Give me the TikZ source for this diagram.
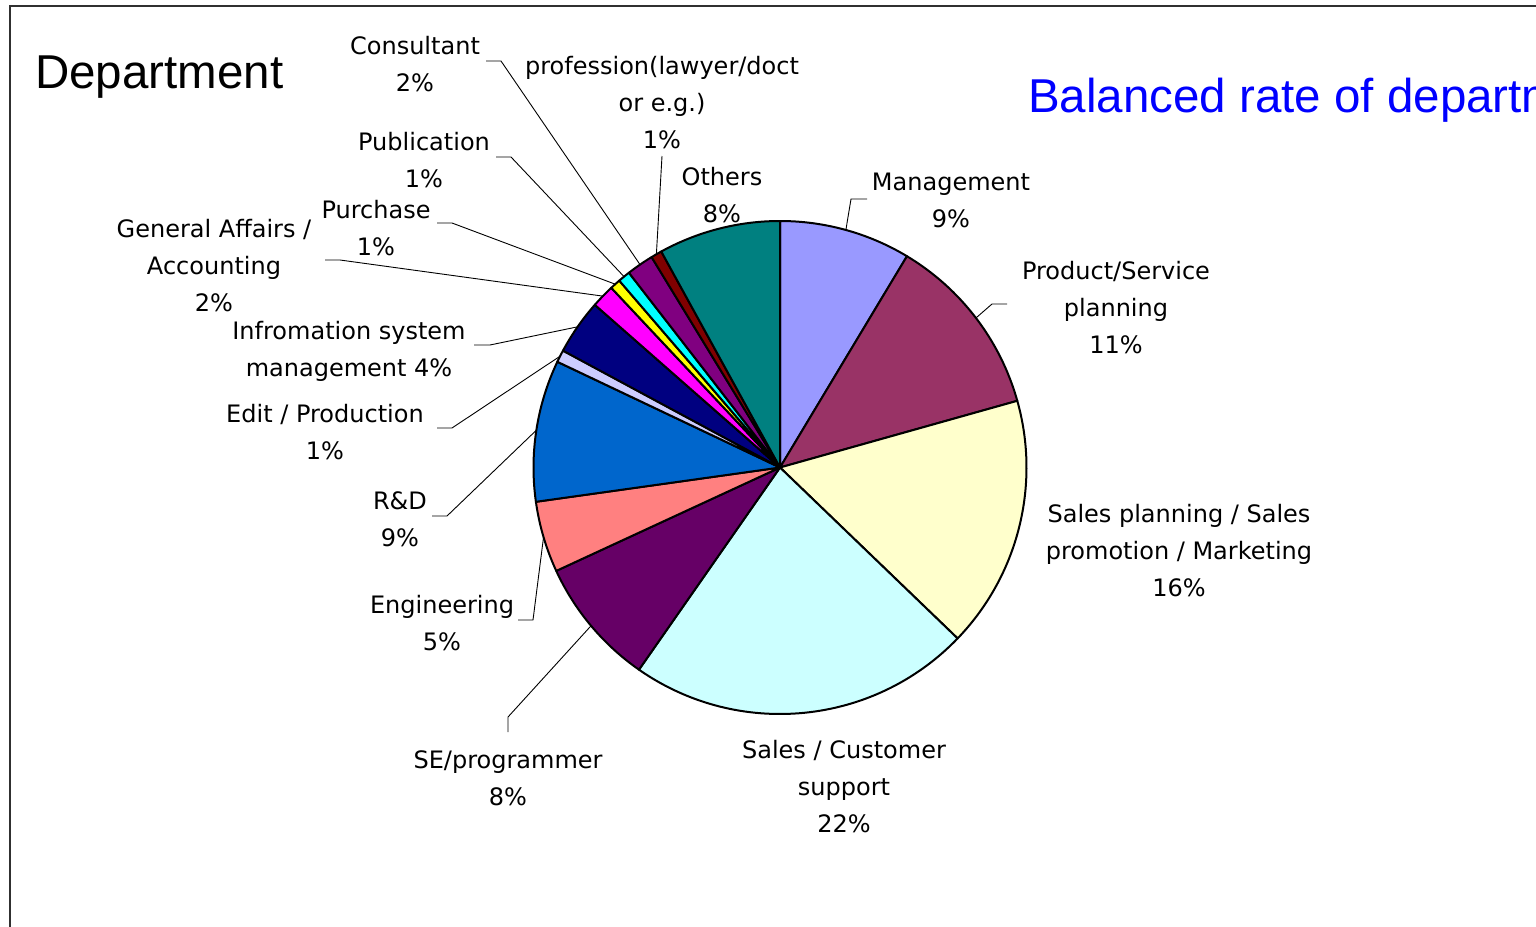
\documentclass[tikz,border=0pt]{standalone}
\usepackage{fontspec}
\usetikzlibrary{calc}
\newfontfamily\lblfont{DejaVu Sans}
\newfontfamily\ttlfont{Liberation Sans}
\definecolor{cMgmt}{HTML}{9999FF}
\definecolor{cProd}{HTML}{993366}
\definecolor{cSplan}{HTML}{FFFFCC}
\definecolor{cScust}{HTML}{CCFFFF}
\definecolor{cSE}{HTML}{660066}
\definecolor{cEng}{HTML}{FF8080}
\definecolor{cRD}{HTML}{0066CC}
\definecolor{cEdit}{HTML}{CCCCFF}
\definecolor{cInfo}{HTML}{000080}
\definecolor{cGA}{HTML}{FF00FF}
\definecolor{cPurch}{HTML}{FFFF00}
\definecolor{cPub}{HTML}{00FFFF}
\definecolor{cCons}{HTML}{800080}
\definecolor{cProf}{HTML}{800000}
\definecolor{cOth}{HTML}{008080}
\definecolor{frame}{HTML}{303030}
\begin{document}
\begin{tikzpicture}[x=1pt,y=-1pt,
  lab/.style={font=\lblfont\fontsize{24}{37}\selectfont, align=center, anchor=north, inner sep=0pt, text=black},
  ttl/.style={font=\ttlfont\fontsize{47.5}{57}\selectfont, anchor=base west, inner sep=0pt},
  slice/.style={draw=black, line width=2pt, line join=round},
  leader/.style={draw=black, line width=0.9pt},
  border/.style={draw=frame, line width=1.6pt}]
\useasboundingbox (0,0) rectangle (1536,926);
\fill[white] (0,0) rectangle (1536,926);
\begin{scope}
\clip (0,0) rectangle (1536,926);
% frame
\draw[border] (1560,6) -- (10,6) -- (10,950);
% titles
\node[ttl] (t1) at (35,88) {Department};
\node[ttl, text=blue] (t2) at (1028,112) {Balanced rate of department};
% pie
\def\R{246.5}
\coordinate (c) at (780,467.5);
\foreach \a/\b/\col in {0/31/cMgmt, 31/74.3/cProd, 74.3/133.9/cSplan, 133.9/214.9/cScust,
  214.9/245.2/cSE, 245.2/262/cEng, 262/295.4/cRD, 295.4/298.3/cEdit, 298.3/311.3/cInfo,
  311.3/316.8/cGA, 316.8/319.3/cPurch, 319.3/322.2/cPub, 322.2/328.6/cCons,
  328.6/331.2/cProf, 331.2/360/cOth}{
  \filldraw[slice, fill=\col] (c) -- ++(\a-90:\R) arc[start angle=\a-90, end angle=\b-90, radius=\R] -- cycle;
}
% edge points (slice mid angles)
\coordinate (eMgmt) at ($(c)+(15.5-90:\R)$);
\coordinate (eProd) at ($(c)+(52.65-90:\R)$);
\coordinate (eSE) at ($(c)+(230.05-90:\R)$);
\coordinate (eEng) at ($(c)+(253.6-90:\R)$);
\coordinate (eRD) at ($(c)+(278.7-90:\R)$);
\coordinate (eEdit) at ($(c)+(296.85-90:\R)$);
\coordinate (eInfo) at ($(c)+(304.8-90:\R)$);
\coordinate (eGA) at ($(c)+(314.05-90:\R)$);
\coordinate (ePurch) at ($(c)+(318.05-90:\R)$);
\coordinate (ePub) at ($(c)+(320.75-90:\R)$);
\coordinate (eCons) at ($(c)+(325.4-90:\R)$);
\coordinate (eProf) at ($(c)+(329.9-90:\R)$);
% labels
\node[lab] (lMgmt) at (951,181-17) {\strut Management\\9\%};
\node[lab] (lProd) at (1116,270-17) {\strut Product/Service\\planning\\11\%};
\node[lab] (lSplan) at (1179,513-17) {\strut Sales planning / Sales\\promotion / Marketing\\16\%};
\node[lab] (lScust) at (844,749-17) {\strut Sales / Customer\\support\\22\%};
\node[lab] (lSE) at (508,759-17) {\strut SE/programmer\\8\%};
\node[lab] (lEng) at (442,604-17) {\strut Engineering\\5\%};
\node[lab] (lRD) at (400,500-17) {\strut R\&D\\9\%};
\node[lab] (lEdit) at (325,413-17) {\strut Edit / Production\\1\%};
\node[lab] (lInfo) at (349,330-17) {\strut Infromation system\\management 4\%};
\node[lab] (lGA) at (214,228-17) {\strut General Affairs /\\Accounting\\2\%};
\node[lab] (lPurch) at (376,209-17) {\strut Purchase\\1\%};
\node[lab] (lPub) at (424,141-17) {\strut Publication\\1\%};
\node[lab] (lCons) at (415,45-17) {\strut Consultant\\2\%};
\node[lab] (lProf) at (662,65-17) {\strut profession(lawyer/doct\\or e.g.)\\1\%};
\node[lab] (lOth) at (722,176-17) {\strut Others\\8\%};
% leader bends and free ends
\coordinate (hMgmt) at (867,199); \coordinate (kMgmt) at (851,199);
\coordinate (hProd) at (1007,304); \coordinate (kProd) at (992,304);
\coordinate (hSE) at (508,732); \coordinate (kSE) at (508,717);
\coordinate (hEng) at (518,620); \coordinate (kEng) at (533,620);
\coordinate (hRD) at (432,516); \coordinate (kRD) at (447,516);
\coordinate (hEdit) at (437,428); \coordinate (kEdit) at (452,428);
\coordinate (hInfo) at (474,345); \coordinate (kInfo) at (490,345);
\coordinate (hGA) at (325,260); \coordinate (kGA) at (340,260);
\coordinate (hPurch) at (437,223); \coordinate (kPurch) at (452,223);
\coordinate (hPub) at (496,157); \coordinate (kPub) at (511,157);
\coordinate (hCons) at (486,61); \coordinate (kCons) at (501,61);
\coordinate (hProf) at (662,156);
\draw[leader] (hMgmt) -- (kMgmt) -- (eMgmt);
\draw[leader] (hProd) -- (kProd) -- (eProd);
\draw[leader] (hSE) -- (kSE) -- (eSE);
\draw[leader] (hEng) -- (kEng) -- (eEng);
\draw[leader] (hRD) -- (kRD) -- (eRD);
\draw[leader] (hEdit) -- (kEdit) -- (eEdit);
\draw[leader] (hInfo) -- (kInfo) -- (eInfo);
\draw[leader] (hGA) -- (kGA) -- (eGA);
\draw[leader] (hPurch) -- (kPurch) -- (ePurch);
\draw[leader] (hPub) -- (kPub) -- (ePub);
\draw[leader] (hCons) -- (kCons) -- (eCons);
\draw[leader] (hProf) -- (eProf);
\end{scope}
\end{tikzpicture}
\end{document}
